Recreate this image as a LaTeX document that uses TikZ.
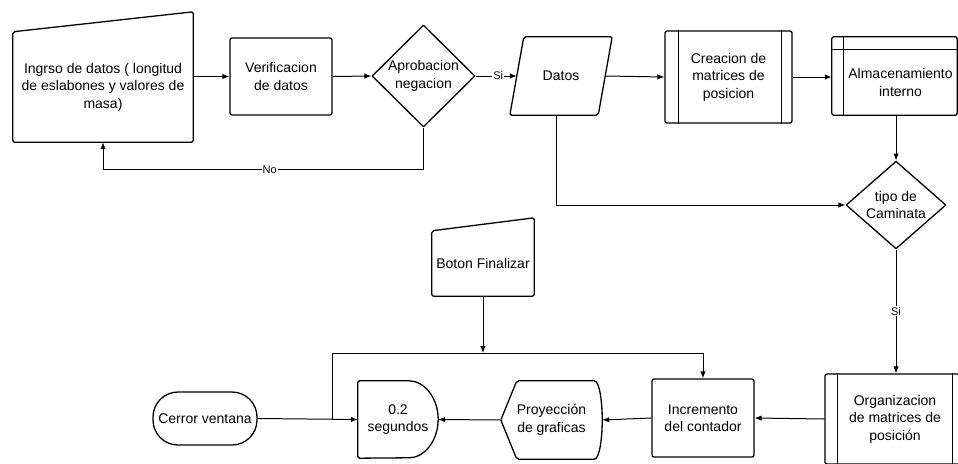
\documentclass[tikz,border=0pt]{standalone}
\usepackage{fontspec}
\setmainfont{Liberation Sans}
\usepackage{tikz}
\usetikzlibrary{calc,shapes.geometric,arrows.meta}

\newcommand{\boxfont}{\fontsize{14pt}{17.5pt}\selectfont}
\newcommand{\tagfont}{\fontsize{11pt}{13pt}\selectfont}

\begin{document}
\begin{tikzpicture}[x=1pt,y=-1pt,
      plain/.style={
            align=center, inner sep=0pt, font=\boxfont
        },
      box/.style={
            plain, draw, line width=1.3pt, rounded corners=2pt
        },
      outline/.style={
            draw, line width=1.3pt, rounded corners=2pt, line join=round
        },
      decision/.style={
            plain, diamond, draw, line width=1.3pt, line join=round
        },
      arr/.style={
            -{Latex[length=7pt,width=5.5pt]}, line width=1pt
        },
      tag/.style={
            fill=white, inner sep=1pt, font=\tagfont
        }
      ]
    \useasboundingbox (0,0) rectangle (958,463);

    % top row
    \node[plain, minimum width=180pt, minimum height=110pt] (ingreso) at (103,87)
        {Ingrso de datos ( longitud\\de eslabones y valores de\\masa)};
    \draw[outline] (ingreso.south west) -- (ingreso.south east)
        -- ([yshift=20pt]ingreso.north east) -- (ingreso.north west) -- cycle;

    \node[box, minimum width=102pt, minimum height=77pt] (verif) at (281,76.5)
        {Verificacion\\de datos};
    \node[decision, minimum width=103pt, minimum height=102pt] (aprob) at (423.5,76)
        {Aprobacion\\negacion};

    \node[plain, minimum width=102pt, minimum height=78pt] (datos) at (561,76) {Datos};
    \draw[outline] (datos.south west) -- ([xshift=14pt]datos.north west)
        -- (datos.north east) -- ([xshift=-14pt]datos.south east) -- cycle;

    \node[box, minimum width=127pt, minimum height=92pt] (crea) at (728.5,77)
        {Creacion de\\matrices de\\posicion};
    \draw[outline] ([xshift=14pt]crea.north west) -- ([xshift=14pt]crea.south west);
    \draw[outline] ([xshift=-11pt]crea.north east) -- ([xshift=-11pt]crea.south east);

    \node[plain, minimum width=113pt, minimum height=65pt] (alm) at (900.5,82.5)
        {Almacenamiento\\interno};
    \coordinate (almw) at ([xshift=-12pt]alm.west);
    \draw[outline] ([xshift=-12pt,yshift=13pt]alm.north west) rectangle (alm.south east);
    \draw[outline] ([xshift=-12pt]alm.north west) -- (alm.north east);
    \draw[outline] ([yshift=13pt]alm.north west) -- (alm.south west);

    \node[decision, minimum width=100pt, minimum height=74pt] (tipo) at (896,205)
        {tipo de\\Caminata};

    % bottom row
    \node[box, minimum width=140pt, minimum height=90pt] (orga) at (895,419)
        {Organizacion\\de matrices de\\posición};
    \draw[outline] ([xshift=13pt]orga.north west) -- ([xshift=13pt]orga.south west);
    \draw[outline] ([xshift=-13pt]orga.north east) -- ([xshift=-13pt]orga.south east);

    \node[box, minimum width=102pt, minimum height=78pt] (incr) at (703,418)
        {Incremento\\del contador};

    \node[plain, minimum width=101pt, minimum height=78pt] (proy) at (551.5,420)
        {Proyección\\de graficas};
    \draw[outline] (proy.west) -- ([xshift=16pt]proy.north west)
        -- ([xshift=-10pt]proy.north east)
        .. controls ([xshift=-2pt]proy.north east) and ([yshift=14pt]proy.east) .. (proy.east)
        .. controls ([yshift=-14pt]proy.east) and ([xshift=-2pt]proy.south east) .. ([xshift=-10pt]proy.south east)
        -- ([xshift=16pt]proy.south west) -- cycle;

    \node[plain, minimum width=80pt, minimum height=77pt] (delay) at (398,419.5)
        {0.2\\segundos};
    \draw[outline] (delay.south west) -- (delay.north west) -- ([xshift=-31pt]delay.north east)
        arc[start angle=90, end angle=-90, x radius=31pt, y radius=38.5pt] -- cycle;

    \node[box, rounded corners=25pt, minimum width=104pt, minimum height=53pt] (cerrar)
        at (205,418.5) {Cerror ventana};

    \node[plain, minimum width=102pt, minimum height=65pt] (boton) at (483,263.5)
        {Boton Finalizar};
    \draw[outline] (boton.south west) -- (boton.south east)
        -- ([yshift=13pt]boton.north east) -- (boton.north west) -- cycle;

    \coordinate (split) at (332,418.5);
    \coordinate (bend) at (332,353);

    % connectors
    \draw[arr] (ingreso.east |- verif.west) -- (verif.west);
    \draw[arr] (verif.east) -- (aprob.west);
    \draw[arr] (aprob.east) -- node[tag, pos=0.55] (lblsi) {Si} ([xshift=7pt]datos.west);
    \draw[arr] ([xshift=-7pt]datos.east) -- (crea.west);
    \draw[arr] (crea.east) -- (crea.east -| almw);
    \draw[arr] (alm.south -| tipo.north) -- (tipo.north);
    \draw[arr] (aprob.south) -- ++(0,42) -| node[tag, pos=0.24] (lblno) {No} (ingreso.south);
    \draw[arr] ([xshift=-5pt]datos.south) |- (tipo.west);
    \draw[arr] (tipo.south) -- node[tag] (lblsi2) {Si} (tipo.south |- orga.north);
    \draw[arr] (orga.west) -- (incr.east);
    \draw[arr] (incr.west) -- (proy.east);
    \draw[arr] (proy.west) -- (delay.east);
    \draw[arr] (cerrar.east) -- (delay.west);
    \draw[arr] (split) -- (bend) -| (incr.north);
    \draw[arr] (boton.south) -- (boton.south |- bend);
\end{tikzpicture}
\end{document}
